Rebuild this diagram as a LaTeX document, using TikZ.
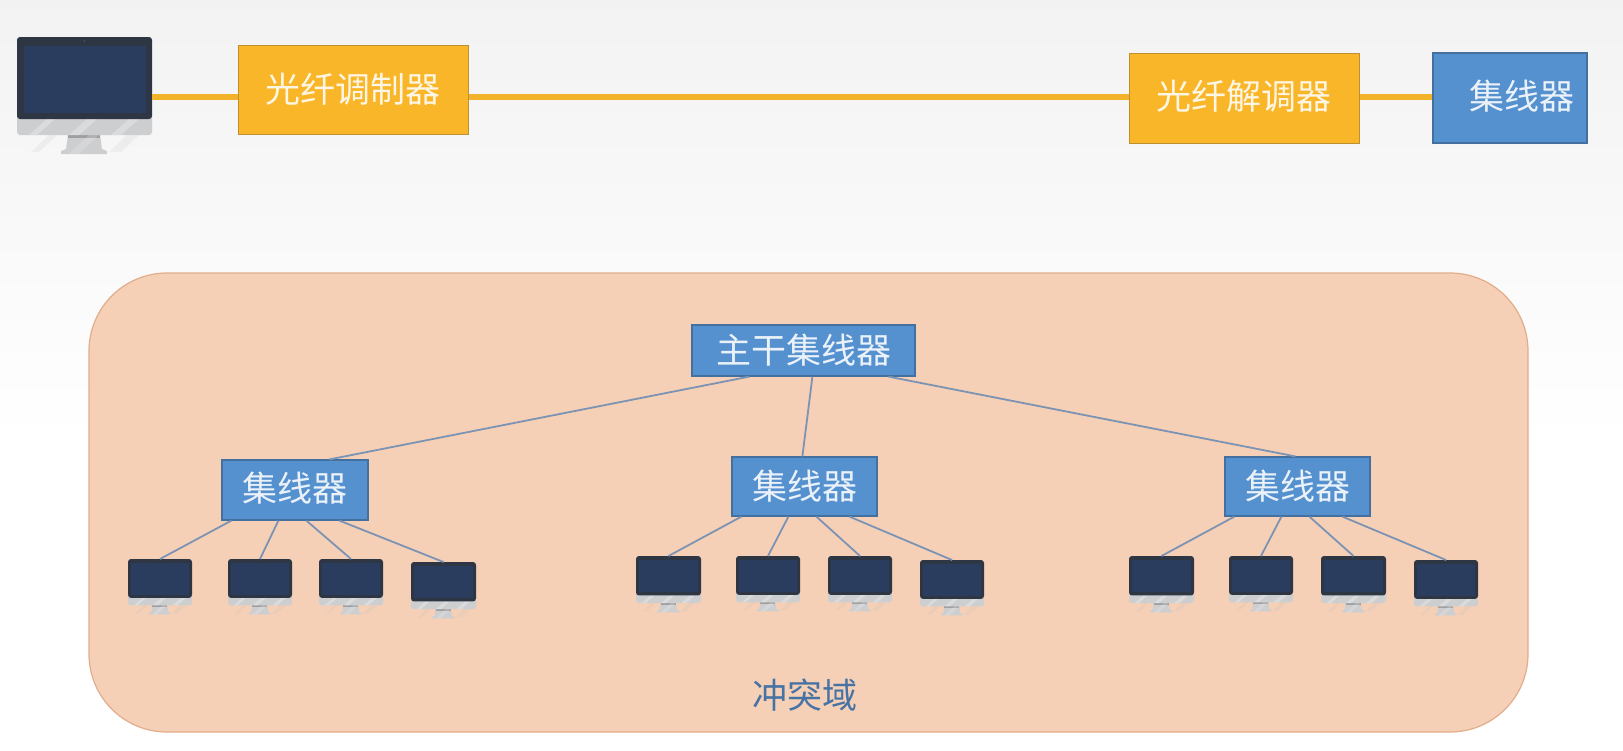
\documentclass[tikz,border=0pt]{standalone}
\usepackage{fontspec}
\setmainfont{Noto Sans CJK SC}
\usetikzlibrary{calc}
\definecolor{orfill}{HTML}{F9B628}
\definecolor{ordraw}{HTML}{BE9030}
\definecolor{orline}{HTML}{F2B32A}
\definecolor{blfill}{HTML}{5591CF}
\definecolor{bldraw}{HTML}{44709F}
\definecolor{regfill}{HTML}{F5D0B7}
\definecolor{regdraw}{HTML}{E2AD8A}
\definecolor{linkc}{HTML}{7C93B3}
\definecolor{bezel}{HTML}{2E3644}
\definecolor{scr}{HTML}{2A3D5F}
\definecolor{silver}{HTML}{CDCED0}
\tikzset{
 orbox/.style={draw=ordraw,fill=orfill,line width=.5pt,inner sep=0pt,text=white,text opacity=.88,font=\fontsize{17.5}{20}\selectfont},
 blbox/.style={draw=bldraw,fill=blfill,line width=.6pt,inner sep=0pt,text=white,text opacity=.88,font=\fontsize{17.5}{20}\selectfont},
 fiber/.style={orline,line width=2.9pt},
 link/.style={linkc,line width=.9pt},
 monnode/.style={fill=bezel,rounded corners=1.5pt,inner sep=0pt,minimum width=67.5pt,minimum height=41pt,transform shape,outer sep=0pt},
}
% box by edges: name, left, top, right, bottom, style, text
\newcommand{\boxat}[7]{%
 \path let \n1={(#4-#2)*0.5pt}, \n2={(#5-#3)*0.5pt} in
  node[#6,minimum width=\n1,minimum height=\n2] (#1) at ({(#2+#4)/2},{(#3+#5)/2}) {#7};}
% monitor: name, left, top, width
\newcommand{\monitor}[4]{%
 \begin{scope}[shift={(#2,#3)},scale=#4/135]
  \fill[gray!55,opacity=.16] (14,115) -- (32,98) -- (40,98) -- (22,115) -- cycle
    (92,115) -- (110,98) -- (122,98) -- (104,115) -- cycle;
  \fill[silver] (51,98) -- (83,98) -- (85,112) -- (90,114) -- (90,117) -- (44,117) -- (44,114) -- (49,112) -- cycle;
  \fill[gray!75] (51,98) rectangle (83,101);
  \fill[silver,rounded corners=1.5pt] (0,76) rectangle (135,98);
  \fill[white,opacity=.28] (12,98) -- (30,82) -- (38,82) -- (20,98) -- cycle
    (52,98) -- (70,82) -- (80,82) -- (62,98) -- cycle
    (94,98) -- (112,82) -- (122,82) -- (104,98) -- cycle;
  \fill[white,opacity=.18] (52,117) -- (72,98) -- (82,98) -- (62,117) -- cycle;
  \node[monnode] (#1) at (67.5,41) {};
  \fill[scr] (6.5,9) rectangle (128.5,75.5);
  \fill[gray!60!black] (67.5,4) circle (1.2);
 \end{scope}}
\begin{document}
\begin{tikzpicture}[x=0.5pt,y=-0.5pt]
\useasboundingbox (0,0) rectangle (1623,750);
\fill[white] (0,0) rectangle (1623,750);
\shade[top color=black!5,bottom color=white] (0,0) rectangle (1623,440);
% region
\path[draw=regdraw,fill=regfill,line width=.6pt,rounded corners=39pt] (89,273) rectangle (1528,732);
% top row
\monitor{pc}{17}{37}{135}
\boxat{mod}{238}{45}{468}{134}{orbox}{光纤调制器}
\boxat{dem}{1129}{53}{1359}{143}{orbox}{\raisebox{3pt}{光纤解调器}}
\boxat{tophub}{1433}{53}{1587}{143}{blbox}{\hspace*{12pt}\raisebox{3pt}{集线器}}
\draw[fiber] (pc.east |- 0,97) -- (mod.west |- 0,97);
\draw[fiber] (mod.east |- 0,97) -- (dem.west |- 0,97);
\draw[fiber] (dem.east |- 0,97) -- (tophub.west |- 0,97);
% hubs
\boxat{trunk}{692}{325}{915}{376}{blbox}{主干集线器}
\boxat{h1}{222}{460}{368}{520}{blbox}{\raisebox{3pt}{集线器}}
\boxat{h2}{732}{457}{877}{516}{blbox}{\raisebox{1pt}{集线器}}
\boxat{h3}{1225}{457}{1370}{516}{blbox}{\raisebox{1pt}{集线器}}
% monitors
\monitor{a1}{128}{559}{64}
\monitor{a2}{228}{559}{64}
\monitor{a3}{319}{559}{64}
\monitor{a4}{411}{562}{65}
\monitor{b1}{636}{556}{65}
\monitor{b2}{736}{556}{64}
\monitor{b3}{828}{556}{64}
\monitor{b4}{920}{560}{64}
\monitor{c1}{1129}{556}{65}
\monitor{c2}{1229}{556}{64}
\monitor{c3}{1321}{556}{65}
\monitor{c4}{1414}{560}{64}
% links
\draw[link] ([xshift=29pt]trunk.south west) -- ([xshift=54pt]h1.north west);
\draw[link] ([xshift=60.5pt]trunk.south west) -- ([xshift=35.5pt]h2.north west);
\draw[link] ([xshift=98.5pt]trunk.south west) -- ([xshift=35.5pt]h3.north west);
\foreach \h/\m in {h1/a,h2/b,h3/c}{
 \draw[link] ([xshift=5pt]\h.south west) -- (\m1.north);
 \draw[link] ([xshift=28.5pt]\h.south west) -- (\m2.north);
 \draw[link] ([xshift=42.5pt]\h.south west) -- (\m3.north);
 \draw[link] ([xshift=59pt]\h.south west) -- (\m4.north);
}
\node[text=bldraw!90!blfill,font=\fontsize{17.5}{20}\selectfont,inner sep=0pt] (label) at (805,695) {冲突域};
\end{tikzpicture}
\end{document}
